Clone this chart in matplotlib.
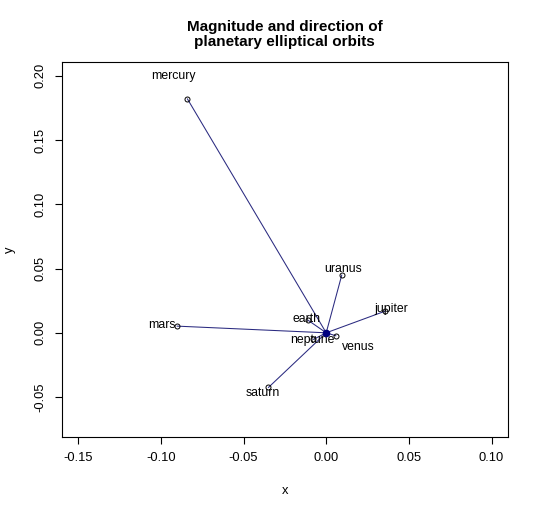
import numpy as np
import matplotlib
matplotlib.use("Agg")
import matplotlib.pyplot as plt

plt.rcParams['font.family'] = ['Liberation Sans', 'DejaVu Sans']

# planet vectors
planets = ["mercury", "venus", "earth", "mars", "jupiter", "saturn", "uranus", "neptune"]
xs = [-0.0839, 0.0058, -0.0111, -0.0901, 0.0357, -0.0349, 0.0094, -0.0077]
ys = [0.1820, -0.0023, 0.0099, 0.0052, 0.0169, -0.0425, 0.0449, -0.0051]

fig = plt.figure(figsize=(5.4, 5.14), dpi=100)
ax = fig.add_axes([0.114, 0.150, 0.827, 0.730])

line_col = "#2a2a80"
for px, py in zip(xs, ys):
    ax.plot([0, px], [0, py], color=line_col, lw=0.75, zorder=2)
ax.plot(xs, ys, 'o', mfc='none', mec='black', ms=3.6, mew=0.7, zorder=3)
ax.plot([0], [0], 'o', color='navy', ms=4.5, zorder=4)

# labels sit at 1.1 x the vector, venus is pushed off to the lower right
for name, px, py in zip(planets, xs, ys):
    if name == "venus":
        ax.annotate(name, (px, py), xytext=(16, -8), textcoords='offset points',
                    ha='center', va='center', fontsize=8.8)
    else:
        ax.text(px * 1.1, py * 1.1, name, ha='center', va='center', fontsize=8.8)

ax.set_xlim(-0.16, 0.11)
ax.set_ylim(-0.081, 0.211)
ax.set_xticks([-0.15, -0.10, -0.05, 0.00, 0.05, 0.10])
ax.set_xticklabels(["-0.15", "-0.10", "-0.05", "0.00", "0.05", "0.10"])
ax.set_yticks([-0.05, 0.00, 0.05, 0.10, 0.15, 0.20])
ax.set_yticklabels(["-0.05", "0.00", "0.05", "0.10", "0.15", "0.20"],
                   rotation=90, va='center')
ax.tick_params(direction='out', length=5, width=0.8, labelsize=9.3, pad=6)
for s in ax.spines.values():
    s.set_linewidth(0.8)

ax.set_xlabel("x", fontsize=9.3, labelpad=15)
ax.set_ylabel("y", fontsize=9.3, labelpad=13)
ax.set_title("Magnitude and direction of\nplanetary elliptical orbits",
             fontsize=11, fontweight='bold', pad=11, linespacing=1.1)

fig.savefig("out.png", dpi=100)
